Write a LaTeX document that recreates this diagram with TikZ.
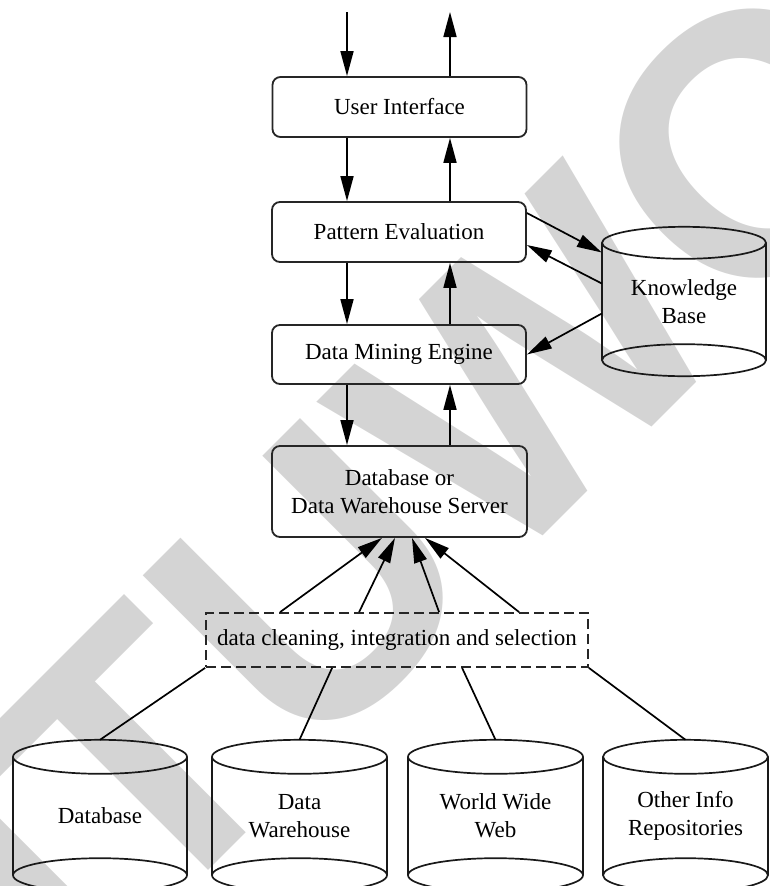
\documentclass[tikz,border=0pt]{standalone}
\usepackage{fontspec}
\setmainfont{Liberation Serif}
\newfontfamily\markfont{Liberation Sans}
\usetikzlibrary{arrows.meta,calc}

% cylinder outline round a (not drawn) rectangle node: #1 node, #2 x radius, #3 y radius
\newcommand\drawcyl[3]{%
  \draw[cylline] ($(#1.north)+(0,#3)$) ellipse [x radius=#2, y radius=#3];
  \draw[cylline] ($(#1.south)+(0,-#3)$) ellipse [x radius=#2, y radius=#3];
  \draw[cylline] ($(#1.north west)+(0,#3)$) -- ($(#1.south west)+(0,-#3)$);
  \draw[cylline] ($(#1.north east)+(0,#3)$) -- ($(#1.south east)+(0,-#3)$);
}

\begin{document}
\begin{tikzpicture}[x=1pt,y=-1pt,
  lbl/.style={font=\fontsize{23}{28}\selectfont, align=center, inner sep=0pt, text=black},
  stage/.style={lbl, draw=black!85, line width=1.8pt, rounded corners=8pt,
    minimum width=254pt},
  prep/.style={lbl, draw=black!85, line width=1.8pt, dash pattern=on 10pt off 5pt,
    minimum width=382pt, minimum height=54pt},
  cylbody/.style={lbl},
  cylline/.style={draw=black!90, line width=1.7pt},
  arr/.style={draw=black, line width=1.7pt, -{Triangle[length=25pt,width=13pt]}},
  link/.style={draw=black, line width=1.7pt},
  watermark/.style={text=black!17, font=\markfont\bfseries\fontsize{370}{370}\selectfont,
    inner sep=0pt, rotate=45}
]
\useasboundingbox (0,0) rectangle (770,886);

% background watermark
\begin{scope}
  \clip (0,0) rectangle (770,886);
  \node[watermark] (wm) at (421,478) {ITUWO};
\end{scope}

% processing stages
\node[stage, minimum height=60pt] (ui)  at (399.5,107)   {User Interface};
\node[stage, minimum height=60pt] (pe)  at (399,232)     {Pattern Evaluation};
\node[stage, minimum height=59pt] (dme) at (399,354.5)   {Data Mining Engine};
\node[stage, minimum height=91pt, minimum width=255pt] (srv) at (399.5,491.5)
  {Database or\\Data Warehouse Server};

% knowledge base
\node[cylbody, minimum width=164pt, minimum height=149pt] (kb) at (684,301.5)
  {Knowledge\\Base};
\drawcyl{kb}{82}{16}

% preprocessing
\node[prep] (dc) at (397,640) {data cleaning, integration and selection};

% data sources
\node[cylbody, minimum width=174pt, minimum height=152pt] (db)  at (100,816)   {Database};
\node[cylbody, minimum width=175pt, minimum height=152pt] (dw)  at (299.5,816) {Data\\Warehouse};
\node[cylbody, minimum width=175pt, minimum height=152pt] (www) at (495.5,816) {World Wide\\Web};
\node[cylbody, minimum width=165pt, minimum height=152pt] (oir) at (685.5,816) {Other Info\\Repositories};
\drawcyl{db}{87}{17}
\drawcyl{dw}{87.5}{17}
\drawcyl{www}{87.5}{17}
\drawcyl{oir}{82.5}{17}

% user input and output
\coordinate (inp)  at (347,12);
\coordinate (outp) at (450,12);
\draw[arr] (inp) -- (inp |- ui.north);
\draw[arr] (outp |- ui.north) -- (outp);

% vertical flow between stages
\draw[arr] (inp |- ui.south)   -- (inp |- pe.north);
\draw[arr] (outp |- pe.north)  -- (outp |- ui.south);
\draw[arr] (inp |- pe.south)   -- (inp |- dme.north);
\draw[arr] (outp |- dme.north) -- (outp |- pe.south);
\draw[arr] (inp |- dme.south)  -- (inp |- srv.north);
\draw[arr] (outp |- srv.north) -- (outp |- dme.south);

% knowledge base links
\draw[arr] ($(pe.east)+(0,-19)$) -- ($(kb.west)+(0,-49)$);
\draw[arr] ($(kb.west)+(0,-18)$) -- ($(pe.east)+(0,13)$);
\draw[arr] ($(kb.west)+(0,12)$)  -- (dme.east);

% preprocessing to server
\draw[arr] ($(dc.north west)+(75,0)$)  -- ($(srv.south)+(-17.5,0)$);
\draw[arr] ($(dc.north west)+(154,0)$) -- ($(srv.south)+(-4.5,0)$);
\draw[arr] ($(dc.north west)+(234,0)$) -- ($(srv.south)+(12.5,0)$);
\draw[arr] ($(dc.north west)+(314,0)$) -- ($(srv.south)+(25.5,0)$);

% sources to preprocessing
\draw[link] (dc.south west) -- (db.north);
\draw[link] ($(dc.south west)+(127,0)$) -- (dw.north);
\draw[link] ($(dc.south west)+(257,0)$) -- (www.north);
\draw[link] (dc.south east) -- (oir.north);
\end{tikzpicture}
\end{document}
